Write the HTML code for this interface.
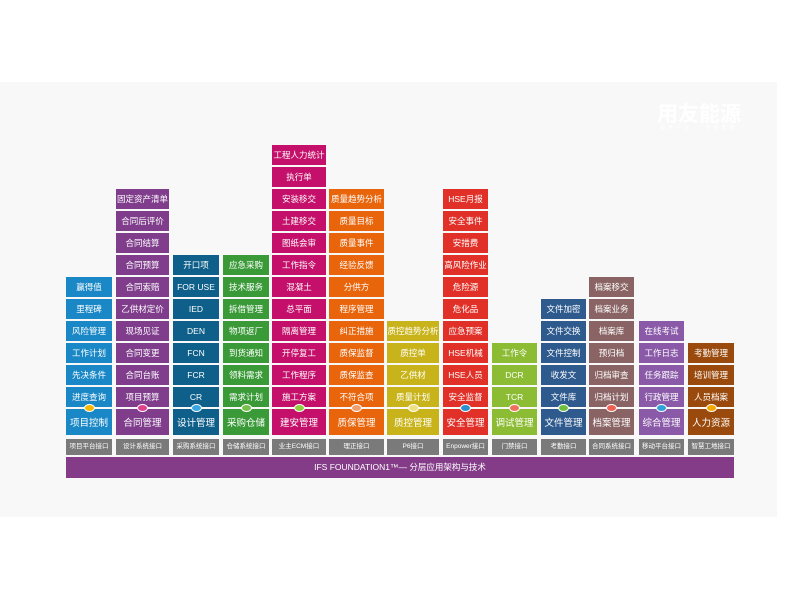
<!DOCTYPE html>
<html><head><meta charset="utf-8">
<style>
html,body{margin:0;padding:0;background:#fff;}
body{width:800px;height:600px;position:relative;overflow:hidden;font-family:"Liberation Sans","Noto Sans CJK SC",sans-serif;}
#panel{position:absolute;left:0;top:82px;width:777px;height:435px;background:#f8f8f8;}
.b{position:absolute;color:#fff;font-size:8.5px;text-align:center;height:20px;line-height:20px;white-space:nowrap;overflow:hidden;}
.m{height:26px;line-height:30px;font-size:9.5px;}
.i{position:absolute;background:#7a7a7a;color:#fff;font-size:6.5px;text-align:center;height:16px;line-height:16px;top:439px;white-space:nowrap;overflow:hidden;}
.d{position:absolute;width:9px;height:6px;border-radius:50%;top:404px;border:1px solid #fff;}
#bar{position:absolute;left:66px;top:457px;width:668px;height:21px;background:#843c88;color:#fff;font-size:8.5px;line-height:21px;text-align:center;}
#logo{position:absolute;left:657px;top:98px;color:#fff;font-size:21px;font-weight:bold;}
#sub{position:absolute;left:660px;top:124px;color:#fff;font-size:5px;letter-spacing:3px;}
</style></head><body>
<div id="panel"></div>
<div id="logo">用友能源</div>
<div id="sub">服务行业 · 专业发展</div>
<div id="bar">IFS FOUNDATION1™— 分层应用架构与技术</div>
<div id="c"></div>
<script>
var cols=[
[66,46,"#1a88c6","#f5b800",["赢得值","里程碑","风险管理","工作计划","先决条件","进度查询"],"项目控制","项目平台接口"],
[116,53,"#7f3d8c","#e0408c",["固定资产清单","合同后评价","合同结算","合同预算","合同索赔","乙供材定价","现场见证","合同变更","合同台账","项目预算"],"合同管理","设计系统接口"],
[173,46,"#0e5f8a","#3aa8e0",["开口项","FOR USE","IED","DEN","FCN","FCR","CR"],"设计管理","采购系统接口"],
[223,46,"#3a9a38","#7ac050",["应急采购","技术服务","拆借管理","物项返厂","到货通知","领料需求","需求计划"],"采购仓储","仓储系统接口"],
[272,54,"#c4106a","#8cd040",["工程人力统计","执行单","安装移交","土建移交","图纸会审","工作指令","混凝土","总平面","隔离管理","开停复工","工作程序","施工方案"],"建安管理","业主ECM接口"],
[329,55,"#e8650c","#f0a070",["质量趋势分析","质量目标","质量事件","经验反馈","分供方","程序管理","纠正措施","质保监督","质保监查","不符合项"],"质保管理","理正接口"],
[387,52,"#c8b41a","#f0e080",["质控趋势分析","质控单","乙供材","质量计划"],"质控管理","P6接口"],
[443,45,"#e03028","#2a90d0",["HSE月报","安全事件","安措费","高风险作业","危险源","危化品","应急预案","HSE机械","HSE人员","安全监督"],"安全管理","Enpower接口"],
[492,45,"#8cbc34","#f07060",["工作令","DCR","TCR"],"调试管理","门禁接口"],
[541,45,"#2e5a8e","#70c040",["文件加密","文件交换","文件控制","收发文","文件库"],"文件管理","考勤接口"],
[589,45,"#8a6464","#f06050",["档案移交","档案业务","档案库","预归档","归档审查","归档计划"],"档案管理","合同系统接口"],
[639,45,"#8a5aa8","#30a0d8",["在线考试","工作日志","任务跟踪","行政管理"],"综合管理","移动平台接口"],
[688,46,"#9a4a0c","#f5a800",["考勤管理","培训管理","人员档案"],"人力资源","智慧工地接口"]
];
var h="";
cols.forEach(function(c){
 var x=c[0],w=c[1],col=c[2],n=c[4].length;
 c[4].forEach(function(t,i){
  var k=n-i; var top=387-22*(k-1);
  h+='<div class="b" style="left:'+x+'px;top:'+top+'px;width:'+w+'px;background:'+col+'">'+t+'</div>';
 });
 h+='<div class="b m" style="left:'+x+'px;top:409px;width:'+w+'px;background:'+col+'">'+c[5]+'</div>';
 h+='<div class="d" style="left:'+(x+w/2-5.5)+'px;background:'+c[3]+'"></div>';
 h+='<div class="i" style="left:'+x+'px;width:'+w+'px">'+c[6]+'</div>';
});
document.getElementById("c").innerHTML=h;
</script>
</body></html>
